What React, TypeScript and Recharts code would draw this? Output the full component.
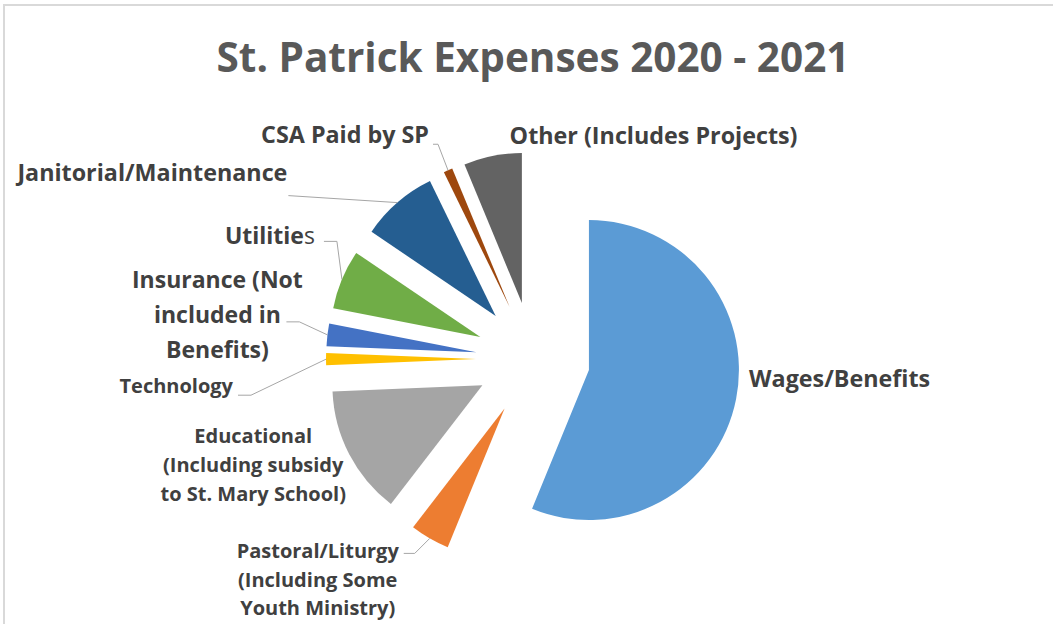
import React from 'react';
import { PieChart, Pie, Cell } from 'recharts';

const categories = [
  'Wages/Benefits',
  'Pastoral/Liturgy (Including Some Youth Ministry)',
  'Educational (Including subsidy to St. Mary School)',
  'Technology',
  'Insurance (Not included in Benefits)',
  'Utilities',
  'Janitorial/Maintenance',
  'CSA Paid by SP',
  'Other (Includes Projects)',
];
const shares = [56.2, 4.25, 13.9, 1.3, 2.45, 6.4, 8.3, 0.97, 6.25];
const labelLines = [
  ['Wages/Benefits'],
  ['Pastoral/Liturgy', '(Including Some', 'Youth Ministry)'],
  ['Educational', '(Including subsidy', 'to St. Mary School)'],
  ['Technology'],
  ['Insurance (Not', 'included in', 'Benefits)'],
  ['Utilities'],
  ['Janitorial/Maintenance'],
  ['CSA Paid by SP'],
  ['Other (Includes Projects)'],
];
const colors = ['#5b9bd5', '#ed7d31', '#a5a5a5', '#ffc000', '#4472c4', '#70ad47', '#255e91', '#9e480e', '#636363'];

// label placement relative to the middle of each slice's outer arc
const labelLayout = [
  { tx: 13, ty: -20, anchor: 'start', size: 23.3, lh: 0, leader: null },
  { tx: -112, ty: 13, anchor: 'middle', size: 20, lh: 28.5, leader: [[-15, 15], [-26, 15]] },
  { tx: -96, ty: -18, anchor: 'middle', size: 20, lh: 29, leader: null },
  { tx: -93, ty: 27, anchor: 'end', size: 20, lh: 0, leader: [[-75, 36], [-88, 36]] },
  { tx: -110, ty: -55, anchor: 'middle', size: 23, lh: 35, leader: [[-28, -13], [-41, -13]] },
  { tx: -27, ty: -43, anchor: 'end', size: 23, lh: 0, leader: [[-5, -38], [-18, -38]] },
  { tx: -110, ty: -30, anchor: 'end', size: 23.3, lh: 0, leader: [[-109, -7]] },
  { tx: -19, ty: -35, anchor: 'end', size: 23.3, lh: 0, leader: [[-10, -26], [-15, -26]] },
  { tx: 17, ty: -20, anchor: 'start', size: 23.3, lh: 0, leader: null },
];

const CX = 533;
const CY = 359;
const R = 150;
const EXPLODE = 57;
const RAD = Math.PI / 180;
const FONT = '"Open Sans", sans-serif';

const data = categories.map((name, i) => ({ name, value: shares[i] }));
const total = shares.reduce((a, b) => a + b, 0);

// each slice is pushed out along its own bisector
const offsets = shares.map((v, i) => {
  const before = shares.slice(0, i).reduce((a, b) => a + b, 0);
  const mid = 90 - ((before + v / 2) / total) * 360;
  return { dx: EXPLODE * Math.cos(mid * RAD), dy: -EXPLODE * Math.sin(mid * RAD) };
});

const renderLabel = (i: number) => (p: any) => {
  if (p.index !== i) return null;
  const L = labelLayout[i];
  const ax = p.cx + p.outerRadius * Math.cos(-p.midAngle * RAD);
  const ay = p.cy + p.outerRadius * Math.sin(-p.midAngle * RAD);
  const pts = L.leader ? [[ax, ay], ...L.leader.map(([x, y]) => [ax + x, ay + y])] : null;
  const x = ax + L.tx;
  const y = ay + L.ty + L.size * 0.35;
  return (
    <g key={`lbl-${i}`}>
      {pts && (
        <polyline points={pts.map((q) => q.join(',')).join(' ')} fill="none" stroke="#a6a6a6" strokeWidth={1} />
      )}
      <text x={x} y={y} textAnchor={L.anchor} fontSize={L.size} fontFamily={FONT} fontWeight={700} fill="#404040">
        {labelLines[i].map((t, k) => (
          <tspan key={k} x={x} dy={k === 0 ? 0 : L.lh}>
            {t === 'Utilities' ? (
              <>
                Utilitie<tspan fontWeight={400}>s</tspan>
              </>
            ) : (
              t
            )}
          </tspan>
        ))}
      </text>
    </g>
  );
};

export default function App() {
  return (
    <div style={{ position: 'absolute', left: 0, top: 0, width: 1053, height: 624, background: '#fff', overflow: 'hidden' }}>
      <div
        style={{
          position: 'absolute',
          left: 3,
          top: 4,
          width: 1060,
          height: 640,
          borderTop: '2px solid #d9d9d9',
          borderLeft: '2px solid #d9d9d9',
        }}
      />
      <div
        style={{
          position: 'absolute',
          left: 0,
          top: 35,
          width: 1066,
          textAlign: 'center',
          fontFamily: FONT,
          fontWeight: 700,
          fontSize: 40.5,
          lineHeight: '44px',
          color: '#595959',
        }}
      >
        St. Patrick Expenses 2020 - 2021
      </div>
      <div style={{ position: 'absolute', left: 0, top: 0 }}>
        <PieChart width={1053} height={624} margin={{ top: 0, right: 0, bottom: 0, left: 0 }}>
          {data.map((_, i) => (
            <Pie
              key={i}
              data={data}
              dataKey="value"
              nameKey="name"
              cx={CX + offsets[i].dx}
              cy={CY + offsets[i].dy}
              outerRadius={R}
              startAngle={90}
              endAngle={-270}
              stroke="none"
              labelLine={false}
              label={renderLabel(i)}
              isAnimationActive={false}
            >
              {data.map((d, j) => (
                <Cell key={d.name} fill={j === i ? colors[j] : 'none'} stroke="none" />
              ))}
            </Pie>
          ))}
        </PieChart>
      </div>
    </div>
  );
}
